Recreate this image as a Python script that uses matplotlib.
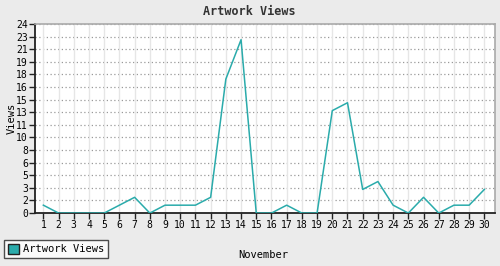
import matplotlib.pyplot as plt
import matplotlib.patches as mpatches
import numpy as np

days = list(range(1, 31))
views = [1, 0, 0, 0, 0, 1, 2, 0, 1, 1, 1, 2, 17, 22, 0,
         0, 1, 0, 0, 13, 14, 3, 4, 1, 0, 2, 0, 1, 1, 3]
ytick_labels = ['0', '2', '3', '5', '6', '8', '10', '11', '13', '15',
                '16', '18', '19', '21', '23', '24']

teal = '#2aabab'
bg = '#ebebeb'
mono = 'DejaVu Sans Mono'

fig = plt.figure(figsize=(5.0, 2.66), dpi=100)
fig.patch.set_facecolor(bg)
ax = fig.add_axes([0.07, 0.199, 0.92, 0.711])
ax.set_facecolor('white')

yticks = np.linspace(0, 24, len(ytick_labels))
for d in days:
    ax.axvline(d, color='#e6e6e6', linewidth=1, zorder=1)
for y in yticks:
    ax.axhline(y, color='#999999', linewidth=0.9, linestyle=(0, (1, 2)), zorder=0.5)

ax.plot(days, views, color=teal, linewidth=1.1, zorder=3)

ax.set_xlim(0.45, 30.7)
ax.set_ylim(0, 24)
ax.set_xticks(days)
ax.set_xticklabels([str(d) for d in days], fontsize=7, family=mono)
ax.set_yticks(yticks)
ax.set_yticklabels(ytick_labels, fontsize=7, family=mono)
ax.tick_params(axis='both', direction='out', length=4, width=1, color='#222222', pad=1)

for s in ['top', 'right']:
    ax.spines[s].set_color('#aaaaaa')
    ax.spines[s].set_linewidth(1.2)
for s in ['left', 'bottom']:
    ax.spines[s].set_color('#222222')
    ax.spines[s].set_linewidth(1.3)

fig.text(0.498, 0.955, 'Artwork Views', ha='center', va='center',
         fontsize=8.5, fontweight='bold', family=mono, color='#333333')
fig.text(0.526, 0.04, 'November', ha='center', va='center', fontsize=7.5, family=mono)
fig.text(0.024, 0.555, 'Views', ha='center', va='center', rotation=90, fontsize=7.5, family=mono)

patch = mpatches.Patch(facecolor=teal, edgecolor='#222222', label='Artwork Views')
leg = fig.legend(handles=[patch], loc='lower left', bbox_to_anchor=(0.008, 0.03),
                 prop={'family': mono, 'size': 7.5}, frameon=True, fancybox=False,
                 handlelength=1.1, handleheight=1.1, handletextpad=0.4,
                 borderpad=0.35, borderaxespad=0)
leg.get_frame().set_edgecolor('#222222')
leg.get_frame().set_linewidth(1)
leg.get_frame().set_facecolor('white')

plt.savefig('out.png', dpi=100, facecolor=bg)
